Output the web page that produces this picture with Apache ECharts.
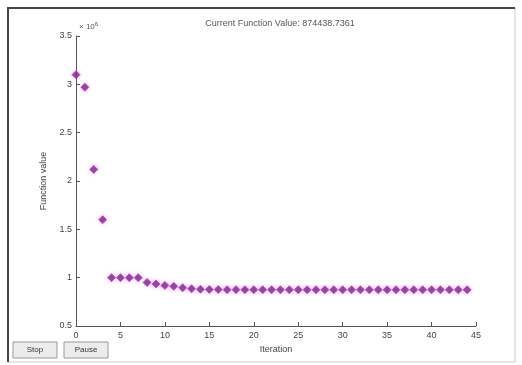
<!DOCTYPE html>
<html><head><meta charset="utf-8">
<script src="https://cdn.jsdelivr.net/npm/echarts@6/dist/echarts.min.js"></script>
<style>html,body{margin:0;padding:0;background:#fff}#c{width:522px;height:365px}</style>
</head><body><div id="c"></div>
<script>
const iterations = [0,1,2,3,4,5,6,7,8,9,10,11,12,13,14,15,16,17,18,19,20,21,22,23,24,25,26,27,28,29,30,31,32,33,34,35,36,37,38,39,40,41,42,43,44];
const functionValues = [3100000,2970000,2120000,1600000,1000000,1000000,1000000,1000000,950000,935000,920000,910000,895000,885000,880000,878000,877000,876000,876000,875500,875000,875000,875000,874800,874800,874700,874700,874600,874600,874600,874500,874500,874500,874500,874500,874450,874450,874450,874440,874440,874440,874439,874439,874439,874438.7361];
const yTicks = [0.5,1,1.5,2,2.5,3,3.5];
const xTicks = [0,5,10,15,20,25,30,35,40,45];
const titleText = 'Current Function Value: 874438.7361';

const chart = echarts.init(document.getElementById('c'), null, {renderer:'canvas'});
const font = 'Liberation Sans';
chart.setOption({
  backgroundColor:'#fff',
  animation:false,
  title:{text:titleText,left:275,top:14,textAlign:'center',textStyle:{fontSize:9,fontWeight:'normal',color:'#555',fontFamily:font}},
  grid:{left:76,right:46,top:36,bottom:39},
  xAxis:{type:'value',min:0,max:45,interval:5,name:'Iteration',nameLocation:'middle',nameGap:17,
    nameTextStyle:{fontSize:9,color:'#444',fontFamily:font},
    axisLine:{lineStyle:{color:'#555',width:1}},
    axisTick:{inside:true,length:4,lineStyle:{color:'#555'}},
    axisLabel:{fontSize:9,color:'#444',fontFamily:font,margin:5},
    splitLine:{show:false}},
  yAxis:{type:'value',min:500000,max:3500000,interval:500000,name:'Function value',nameLocation:'middle',nameGap:28,nameRotate:90,
    nameTextStyle:{fontSize:9,color:'#444',fontFamily:font},
    axisLine:{show:true,lineStyle:{color:'#555',width:1}},
    axisTick:{show:true,inside:true,length:4,lineStyle:{color:'#555'}},
    axisLabel:{fontSize:9,color:'#444',fontFamily:font,margin:4,formatter:v=>String(+(v/1e6).toFixed(1))},
    splitLine:{show:false}},
  series:[{type:'scatter',symbol:'diamond',symbolSize:8,
    itemStyle:{color:'#6a2173',borderColor:'#c63fcf',borderWidth:1,shadowColor:'rgba(230,120,240,0.6)',shadowBlur:4},
    data:iterations.map((x,i)=>[x,functionValues[i]])}],
  graphic:[
    {type:'rect',shape:{x:8,y:8,width:507,height:354},style:{fill:'none',stroke:'#ccc',lineWidth:1},silent:true},
    {type:'polyline',shape:{points:[[8,362],[8,8],[515,8]]},style:{stroke:'#444',lineWidth:2,fill:'none'},silent:true},
    {type:'text',x:79,y:21,style:{text:'{a|× 10}{b|6}',rich:{a:{fontSize:8,fill:'#555',fontFamily:font},b:{fontSize:6,fill:'#555',fontFamily:font,verticalAlign:'top',padding:[0,0,5,0]}}}},
    {type:'rect',shape:{x:13,y:342,width:44,height:16},style:{fill:'#ececec',stroke:'#999',lineWidth:1}},
    {type:'text',x:35,y:350,style:{text:'Stop',fontSize:8,fill:'#333',fontFamily:font,align:'center',verticalAlign:'middle'}},
    {type:'rect',shape:{x:64,y:342,width:44,height:16},style:{fill:'#ececec',stroke:'#999',lineWidth:1}},
    {type:'text',x:86,y:350,style:{text:'Pause',fontSize:8,fill:'#333',fontFamily:font,align:'center',verticalAlign:'middle'}}
  ]
});
</script></body></html>
